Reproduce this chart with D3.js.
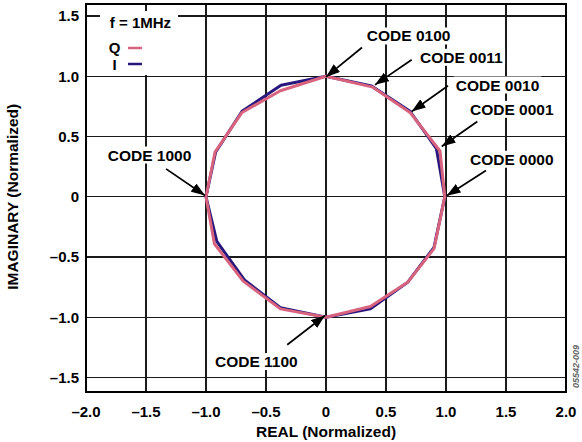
<!DOCTYPE html>
<html>
<head>
<meta charset="utf-8">
<script src="https://cdn.jsdelivr.net/npm/d3@7"></script>
<style>
  html, body { margin: 0; padding: 0; background: #fff; }
  svg { display: block; }
  text { font-family: "Liberation Sans", Arial, sans-serif; font-weight: bold; fill: #000; }
</style>
</head>
<body>
<svg id="chart" width="582" height="442"></svg>
<script>
// ---- data ----
const codes = ["0000","0001","0010","0011","0100","0101","0110","0111",
               "1000","1001","1010","1011","1100","1101","1110","1111"];
const qReal = [0.99, 0.95, 0.70, 0.39, 0.00, -0.38, -0.70, -0.925, -1.00, -0.93, -0.69, -0.38, 0.00, 0.37, 0.68, 0.90];
const qImag = [0.00, 0.38, 0.70, 0.91, 1.00, 0.88, 0.70, 0.37, 0.00, -0.39, -0.70, -0.93, -1.00, -0.91, -0.71, -0.43];
const iReal = [0.99, 0.92, 0.70, 0.38, 0.00, -0.375, -0.70, -0.92, -1.00, -0.91, -0.68, -0.38, 0.00, 0.37, 0.68, 0.90];
const iImag = [0.00, 0.40, 0.71, 0.92, 1.00, 0.925, 0.71, 0.37, 0.00, -0.37, -0.69, -0.92, -1.00, -0.93, -0.71, -0.42];
const xTicks = [-2.0, -1.5, -1.0, -0.5, 0, 0.5, 1.0, 1.5, 2.0];
const yTicks = [-1.5, -1.0, -0.5, 0, 0.5, 1.0, 1.5];
const seriesNames = ["Q", "I"];
const annotLabels = ["CODE 0100", "CODE 0011", "CODE 0010", "CODE 0001", "CODE 0000", "CODE 1000", "CODE 1100"];

// ---- layout ----
const svg = d3.select("#chart");
const pL = 86, pR = 566, pT = 4, pB = 392;
const x = d3.scaleLinear().domain([-2, 2]).range([pL, pR]);
const y = d3.scaleLinear().domain([-1.62, 1.6]).range([pB, pT]);
const colors = { Q: "#d8637f", I: "#28177c" };

svg.append("rect").attr("x", 0).attr("y", 0).attr("width", 582).attr("height", 442).attr("fill", "#fff");

// grid
const grid = svg.append("g").attr("stroke", "#1a1a1a").attr("stroke-width", 1.1).attr("shape-rendering", "crispEdges");
grid.selectAll("line.v").data(xTicks).join("line").attr("class", "v")
  .attr("x1", d => x(d)).attr("x2", d => x(d)).attr("y1", pT).attr("y2", pB);
grid.selectAll("line.h").data(yTicks).join("line").attr("class", "h")
  .attr("x1", pL).attr("x2", pR).attr("y1", d => y(d)).attr("y2", d => y(d));

// tick labels
const fmt = d => d === 0 ? "0" : (d < 0 ? "\u2013" : "") + Math.abs(d).toFixed(1);
svg.append("g").selectAll("text").data(xTicks).join("text")
  .attr("x", d => x(d)).attr("y", 417).attr("text-anchor", "middle")
  .attr("font-size", 15).text(fmt);
svg.append("g").selectAll("text").data(yTicks).join("text")
  .attr("x", 79).attr("y", d => y(d)).attr("dy", "0.36em").attr("text-anchor", "end")
  .attr("font-size", 15).text(fmt);

// axis titles
svg.append("text").attr("x", (pL + pR) / 2).attr("y", 437).attr("text-anchor", "middle")
  .attr("font-size", 15.5).text("REAL (Normalized)");
svg.append("text").attr("transform", `translate(18,${y(0)}) rotate(-90)`).attr("text-anchor", "middle")
  .attr("font-size", 15.5).text("IMAGINARY (Normalized)");

// legend
const lg = svg.append("g");
lg.append("rect").attr("x", 100).attr("y", 11).attr("width", 78).attr("height", 64).attr("fill", "#fff");
lg.append("text").attr("x", 140.5).attr("y", 28).attr("text-anchor", "middle").attr("font-size", 15).text("f = 1MHz");
seriesNames.forEach((s, i) => {
  lg.append("text").attr("x", 114.5).attr("y", 53 + i * 16.5).attr("text-anchor", "middle").attr("font-size", 15).text(s);
  lg.append("line").attr("x1", 128).attr("x2", 142).attr("y1", 48 + i * 16).attr("y2", 48 + i * 16)
    .attr("stroke", colors[s]).attr("stroke-width", 2.5);
});

// series
const line = d3.line().x(d => x(d[0])).y(d => y(d[1])).curve(d3.curveLinearClosed);
const iPts = iReal.map((v, k) => [v, iImag[k]]);
const qPts = qReal.map((v, k) => [v, qImag[k]]);
svg.append("path").datum(iPts).attr("d", line).attr("fill", "none")
  .attr("stroke", colors.I).attr("stroke-width", 3).attr("stroke-linejoin", "round");
svg.append("path").datum(qPts).attr("d", line).attr("fill", "none")
  .attr("stroke", colors.Q).attr("stroke-width", 3).attr("stroke-linejoin", "round");

// annotations: label position (data units), arrow tail and head (data units)
const annotPos = [
  { tx: 0.34,  ty: 1.289, x1: 0.30,  y1: 1.239, x2: 0.00,  y2: 0.995 },
  { tx: 0.783, ty: 1.112, x1: 0.714, y1: 1.137, x2: 0.408, y2: 0.929 },
  { tx: 1.081, ty: 0.882, x1: 1.017, y1: 0.921, x2: 0.714, y2: 0.708 },
  { tx: 1.20,  ty: 0.680, x1: 1.261, y1: 0.625, x2: 0.964, y2: 0.417 },
  { tx: 1.20,  ty: 0.266, x1: 1.333, y1: 0.218, x2: 1.006, y2: 0.008 },
  { tx: -1.819,ty: 0.301, x1: -1.333,y1: 0.232, x2: -1.008,y2: 0.011 },
  { tx: -0.925,ty: -1.413,x1: -0.323,y1: -1.228,x2: -0.008,y2: -0.985 }
];

const defs = svg.append("defs");
defs.append("marker").attr("id", "arr").attr("viewBox", "0 0 14 10").attr("refX", 14).attr("refY", 5)
  .attr("markerWidth", 14).attr("markerHeight", 10).attr("markerUnits", "userSpaceOnUse")
  .attr("orient", "auto")
  .append("path").attr("d", "M0,0 L14,5 L0,10 Z").attr("fill", "#000");

const ag = svg.append("g");
annotLabels.forEach((lab, k) => {
  const p = annotPos[k];
  const g = ag.append("g");
  const bg = g.append("rect").attr("fill", "#fff");
  const t = g.append("text").attr("x", x(p.tx)).attr("y", y(p.ty)).attr("font-size", 15.5).text(lab);
  const bb = t.node().getBBox();
  bg.attr("x", bb.x - 2).attr("y", bb.y).attr("width", bb.width + 4).attr("height", bb.height);
  g.append("line").attr("x1", x(p.x1)).attr("y1", y(p.y1)).attr("x2", x(p.x2)).attr("y2", y(p.y2))
    .attr("stroke", "#000").attr("stroke-width", 1.7).attr("marker-end", "url(#arr)");
});

// frame
svg.append("rect").attr("x", pL).attr("y", pT).attr("width", pR - pL).attr("height", pB - pT)
  .attr("fill", "none").attr("stroke", "#000").attr("stroke-width", 2);

// figure id
svg.append("text").attr("transform", "translate(579,388) rotate(-90)").attr("font-size", 9)
  .attr("font-style", "italic").attr("font-weight", "normal").style("fill", "#666").text("05542-009");
</script>
</body>
</html>
